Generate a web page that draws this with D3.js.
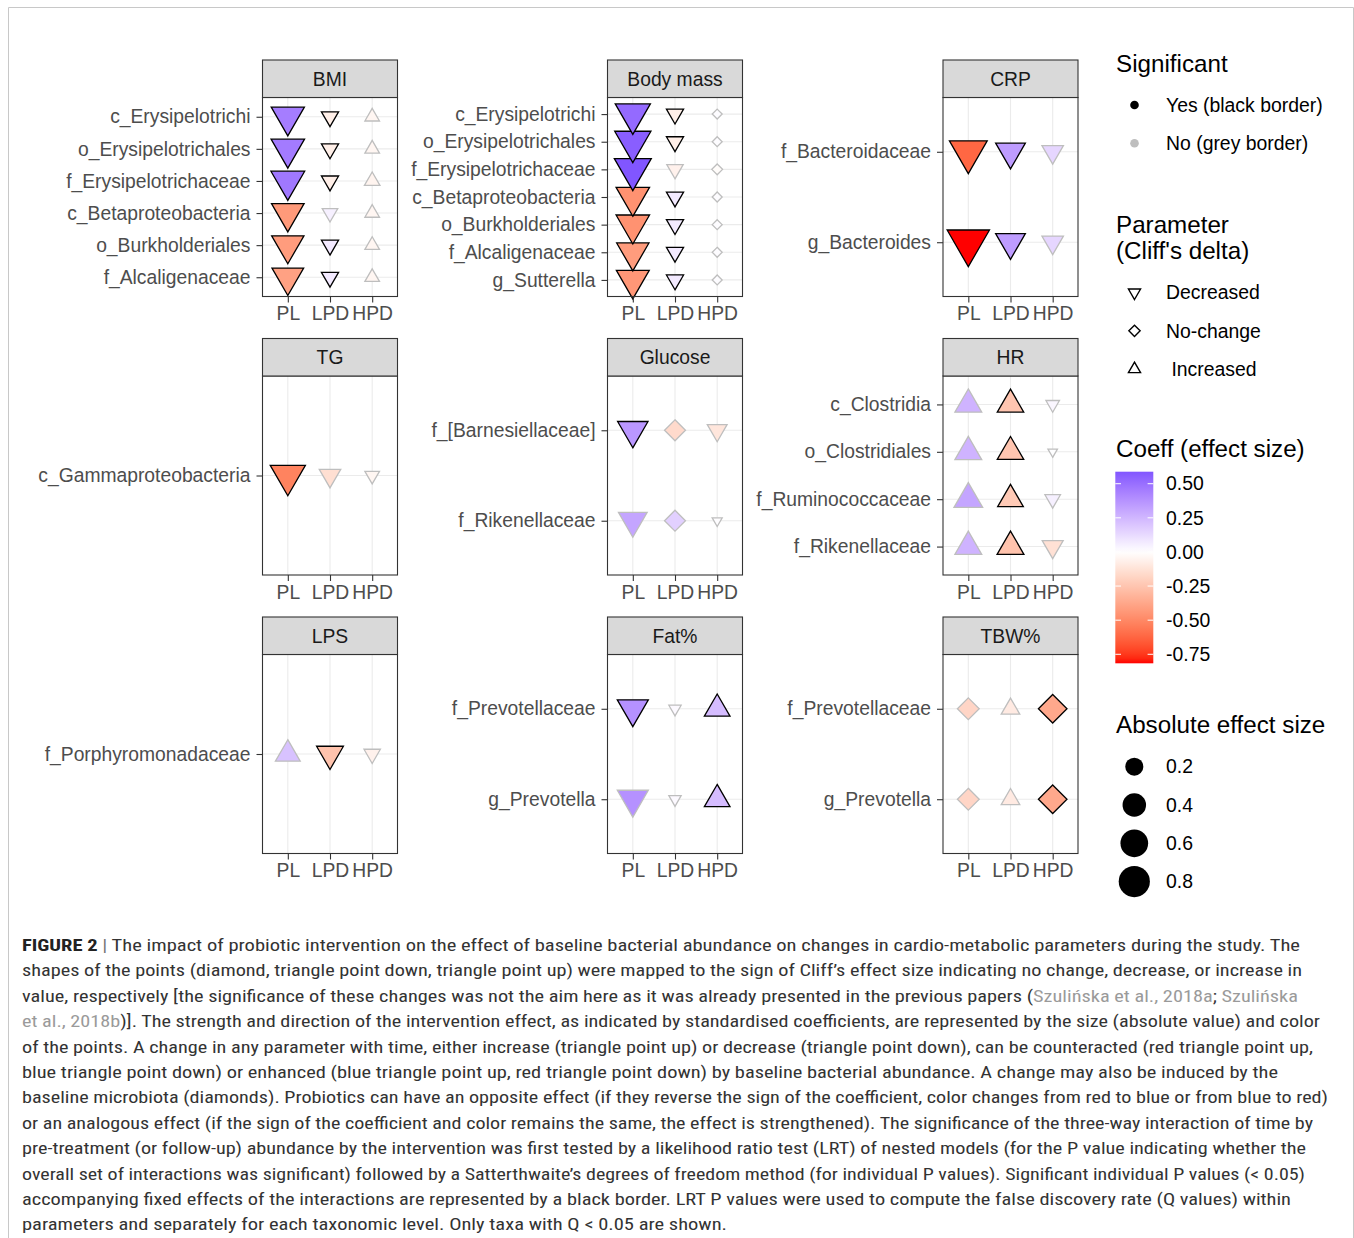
<!DOCTYPE html>
<html>
<head>
<meta charset="utf-8">
<script src="https://cdn.jsdelivr.net/npm/d3@7"></script>
<style>
  html, body { margin: 0; padding: 0; background: #fff; }
  svg { display: block; }
</style>
</head>
<body>
<svg id="fig" width="1354" height="1238"></svg>
<script>
// ---- data -----------------------------------------------------------------
// one facet per cardio-metabolic parameter
const parameters = ["BMI", "Body mass", "CRP", "TG", "Glucose", "HR", "LPS", "Fat%", "TBW%"];
const groups = ["PL", "LPD", "HPD"];
// sign of Cliff's delta per parameter and group: D = decreased, N = no-change, I = increased
const cliffDirection = [
  ["D", "D", "I"], // BMI
  ["D", "D", "N"], // Body mass
  ["D", "D", "D"], // CRP
  ["D", "D", "D"], // TG
  ["D", "N", "D"], // Glucose
  ["I", "I", "D"], // HR
  ["I", "D", "D"], // LPS
  ["D", "D", "I"], // Fat%
  ["N", "I", "N"]  // TBW%
];
// taxa, top to bottom inside each facet
const taxonParameter = [
  "BMI", "BMI", "BMI", "BMI", "BMI", "BMI",
  "Body mass", "Body mass", "Body mass", "Body mass", "Body mass", "Body mass", "Body mass",
  "CRP", "CRP",
  "TG",
  "Glucose", "Glucose",
  "HR", "HR", "HR", "HR",
  "LPS",
  "Fat%", "Fat%",
  "TBW%", "TBW%"
];
const taxonName = [
  "c_Erysipelotrichi", "o_Erysipelotrichales", "f_Erysipelotrichaceae", "c_Betaproteobacteria", "o_Burkholderiales", "f_Alcaligenaceae",
  "c_Erysipelotrichi", "o_Erysipelotrichales", "f_Erysipelotrichaceae", "c_Betaproteobacteria", "o_Burkholderiales", "f_Alcaligenaceae", "g_Sutterella",
  "f_Bacteroidaceae", "g_Bacteroides",
  "c_Gammaproteobacteria",
  "f_[Barnesiellaceae]", "f_Rikenellaceae",
  "c_Clostridia", "o_Clostridiales", "f_Ruminococcaceae", "f_Rikenellaceae",
  "f_Porphyromonadaceae",
  "f_Prevotellaceae", "g_Prevotella",
  "f_Prevotellaceae", "g_Prevotella"
];
// standardised interaction coefficients (effect size) per group
const coefPL = [
  0.45, 0.46, 0.47, -0.43, -0.42, -0.40,
  0.52, 0.56, 0.588, -0.46, -0.46, -0.42, -0.44,
  -0.62, -0.816,
  -0.52,
  0.36, 0.31,
  0.26, 0.26, 0.31, 0.26,
  0.21,
  0.38, 0.38,
  -0.18, -0.18
];
const coefLPD = [
  -0.07, -0.07, -0.07, 0.05, 0.07, 0.07,
  -0.07, -0.07, -0.06, 0.07, 0.07, 0.07, 0.07,
  0.34, 0.34,
  -0.14,
  -0.16, 0.16,
  -0.25, -0.25, -0.23, -0.26,
  -0.26,
  0.02, 0.02,
  -0.09, -0.09
];
const coefHPD = [
  -0.04, -0.04, -0.05, -0.04, -0.04, -0.04,
  0.01, 0.01, -0.015, 0.01, 0.01, 0.01, 0.01,
  0.14, 0.14,
  -0.04,
  -0.11, 0.007,
  0.03, 0.005, 0.05, -0.13,
  -0.06,
  0.23, 0.23,
  -0.37, -0.37
];
// significance of the individual fixed effect (1 = P < 0.05)
const sigPL = [1,1,1,1,1,1, 1,1,1,1,1,1,1, 1,1, 1, 1,0, 0,0,0,0, 0, 1,0, 0,0];
const sigLPD = [1,1,1,0,1,1, 1,1,0,1,1,1,1, 1,1, 0, 0,0, 1,1,1,1, 1, 0,0, 0,0];
const sigHPD = [0,0,0,0,0,0, 0,0,0,0,0,0,0, 0,0, 0, 0,0, 0,0,0,0, 0, 1,1, 1,1];

// legend content
const significanceLabels = ["Yes (black border)", "No (grey border)"];
const directionLabels = ["Decreased", "No-change", " Increased"];
const directionCodes = ["D", "N", "I"];
const coeffTicks = [0.5, 0.25, 0, -0.25, -0.5, -0.75];
const coeffLimits = [-0.816, 0.588];
const sizeBreaks = [0.2, 0.4, 0.6, 0.8];

// caption, one entry per printed line; segments are [text, style]
const captionLines = [
  [["FIGURE 2", "bold"], [" | ", "sep"], ["The impact of probiotic intervention on the effect of baseline bacterial abundance on changes in cardio-metabolic parameters during the study. The", "plain"]],
  [["shapes of the points (diamond, triangle point down, triangle point up) were mapped to the sign of Cliff\u2019s effect size indicating no change, decrease, or increase in", "plain"]],
  [["value, respectively [the significance of these changes was not the aim here as it was already presented in the previous papers (", "plain"], ["Szuli\u0144ska et al., 2018a", "cite"], ["; ", "plain"], ["Szuli\u0144ska", "cite"]],
  [["et al., 2018b", "cite"], [")]. The strength and direction of the intervention effect, as indicated by standardised coefficients, are represented by the size (absolute value) and color", "plain"]],
  [["of the points. A change in any parameter with time, either increase (triangle point up) or decrease (triangle point down), can be counteracted (red triangle point up,", "plain"]],
  [["blue triangle point down) or enhanced (blue triangle point up, red triangle point down) by baseline bacterial abundance. A change may also be induced by the", "plain"]],
  [["baseline microbiota (diamonds). Probiotics can have an opposite effect (if they reverse the sign of the coefficient, color changes from red to blue or from blue to red)", "plain"]],
  [["or an analogous effect (if the sign of the coefficient and color remains the same, the effect is strengthened). The significance of the three-way interaction of time by", "plain"]],
  [["pre-treatment (or follow-up) abundance by the intervention was first tested by a likelihood ratio test (LRT) of nested models (for the P value indicating whether the", "plain"]],
  [["overall set of interactions was significant) followed by a Satterthwaite\u2019s degrees of freedom method (for individual P values). Significant individual P values (< 0.05)", "plain"]],
  [["accompanying fixed effects of the interactions are represented by a black border. LRT P values were used to compute the false discovery rate (Q values) within", "plain"]],
  [["parameters and separately for each taxonomic level. Only taxa with Q < 0.05 are shown.", "plain"]]
];

// ---- layout ---------------------------------------------------------------
const FONT = "'Liberation Sans', Arial, Helvetica, sans-serif";
const CAPTION_FONT = "'Liberation Sans Narrow', 'Roboto Condensed', 'DejaVu Sans Condensed', 'Liberation Sans', Arial, sans-serif";
const AXIS_SIZE = 19.3, LEGEND_SIZE = 19.4, TITLE_SIZE = 24.2;
const colX = [262.5, 607.5, 943];
const rowY = [60, 338.5, 617];
const panelW = 135, stripH = 37.5, panelH = 199;
const captionX = 22, captionY0 = 951, captionStep = 25.4;
const captionRight = [1300, 1302, 1298, 1320, 1313, 1278, 1328, 1313, 1306, 1305, 1291, 727];

const svg = d3.select("#fig");
svg.append("rect").attr("width", 1354).attr("height", 1238).attr("fill", "#fff");
svg.append("path")
  .attr("d", "M8.5,1240V7.5H1353.5V1240")
  .attr("fill", "none").attr("stroke", "#c8c8c8").attr("stroke-width", 1);

// ---- scales ---------------------------------------------------------------
const colour = d3.scaleLinear()
  .domain([-0.816, 0, 0.816])
  .range(["#ff0000", "#ffffff", "#0000ff"])
  .interpolate(d3.interpolateLab)
  .clamp(true);
const sizeT = d3.scaleLinear().domain([0, 0.82]).range([0, 1]).clamp(true);
const diam = d3.scaleSqrt().domain([0, 1]).range([5, 31.5]);
const markDiameter = v => diam(sizeT(Math.abs(v)));

// R-style filled symbols: 25 (down), 23 (diamond), 24 (up), sized from the circle diameter
function shapePath(kind, cx, cy, d) {
  const R = d / 2;
  if (kind === "N") {
    const h = 1.2533 * R;
    return `M${cx},${cy - h}L${cx + h},${cy}L${cx},${cy + h}L${cx - h},${cy}Z`;
  }
  const xc = 1.3468 * R, r = 1.5551 * R, yc = 0.7776 * R;
  if (kind === "I") return `M${cx},${cy - r}L${cx + xc},${cy + yc}L${cx - xc},${cy + yc}Z`;
  return `M${cx},${cy + r}L${cx + xc},${cy - yc}L${cx - xc},${cy - yc}Z`;
}

const rows = taxonName.map((name, i) => ({
  param: taxonParameter[i],
  name,
  coef: [coefPL[i], coefLPD[i], coefHPD[i]],
  sig: [sigPL[i], sigLPD[i], sigHPD[i]]
}));

// ---- facets ---------------------------------------------------------------
parameters.forEach((p, k) => {
  const col = k % 3, row = Math.floor(k / 3);
  const x0 = colX[col], top = rowY[row], y0 = top + stripH;
  const sub = rows.filter(r => r.param === p);
  const dirs = cliffDirection[k];

  const x = d3.scalePoint().domain(groups).range([x0, x0 + panelW]).padding(0.6);
  const y = d3.scalePoint().domain(sub.map(r => r.name)).range([y0, y0 + panelH]).padding(0.6);

  const g = svg.append("g");
  g.append("rect").attr("x", x0).attr("y", y0).attr("width", panelW).attr("height", panelH).attr("fill", "#fff");

  // grid
  g.selectAll(".vg").data(groups).join("line")
    .attr("x1", d => x(d)).attr("x2", d => x(d))
    .attr("y1", y0).attr("y2", y0 + panelH)
    .attr("stroke", "#ebebeb").attr("stroke-width", 1.1);
  g.selectAll(".hg").data(sub).join("line")
    .attr("x1", x0).attr("x2", x0 + panelW)
    .attr("y1", d => y(d.name)).attr("y2", d => y(d.name))
    .attr("stroke", "#ebebeb").attr("stroke-width", 1.1);

  // points, bottom row first so upper rows stay on top
  const pts = [];
  sub.slice().reverse().forEach(r => {
    groups.forEach((gr, j) => pts.push({ r, gr, j }));
  });
  g.selectAll(".pt").data(pts).join("path")
    .attr("d", d => shapePath(dirs[d.j], x(d.gr), y(d.r.name), markDiameter(d.r.coef[d.j])))
    .attr("fill", d => colour(d.r.coef[d.j]))
    .attr("stroke", d => d.r.sig[d.j] ? "#000" : "#bebebe")
    .attr("stroke-width", 1.3)
    .attr("stroke-linejoin", "miter");

  // border and strip
  g.append("rect").attr("x", x0).attr("y", y0).attr("width", panelW).attr("height", panelH)
    .attr("fill", "none").attr("stroke", "#333").attr("stroke-width", 1.1);
  g.append("rect").attr("x", x0).attr("y", top).attr("width", panelW).attr("height", stripH)
    .attr("fill", "#d9d9d9").attr("stroke", "#333").attr("stroke-width", 1.1);
  g.append("text").attr("x", x0 + panelW / 2).attr("y", top + stripH / 2).attr("dy", "0.35em")
    .attr("text-anchor", "middle").attr("font-family", FONT).attr("font-size", AXIS_SIZE)
    .attr("fill", "#1a1a1a").text(p);

  // axes
  const gx = g.append("g").attr("transform", `translate(0,${y0 + panelH})`)
    .call(d3.axisBottom(x).tickSize(6).tickPadding(4));
  const gy = g.append("g").attr("transform", `translate(${x0},0)`)
    .call(d3.axisLeft(y).tickSize(6).tickPadding(6));
  [gx, gy].forEach(a => {
    a.attr("font-family", FONT).attr("font-size", AXIS_SIZE);
    a.select(".domain").remove();
    a.selectAll("line").attr("stroke", "#333").attr("stroke-width", 1.1);
    a.selectAll("text").attr("fill", "#4d4d4d");
  });
});

// ---- legends --------------------------------------------------------------
const L = svg.append("g").attr("font-family", FONT).attr("fill", "#000");
const legTitle = (yb, txt) => L.append("text").attr("x", 1116).attr("y", yb).attr("font-size", TITLE_SIZE).text(txt);
const legText = (x, yc, txt) => L.append("text").attr("x", x).attr("y", yc).attr("dy", "0.35em")
  .attr("font-size", LEGEND_SIZE).attr("xml:space", "preserve").style("white-space", "pre").text(txt);

// significance
legTitle(71.5, "Significant");
significanceLabels.forEach((t, i) => {
  const yc = 105 + i * 38.3;
  L.append("circle").attr("cx", 1134.5).attr("cy", yc).attr("r", 4.3)
    .attr("fill", i === 0 ? "#000" : "#bebebe");
  legText(1166, yc, t);
});

// direction of the parameter
legTitle(233, "Parameter");
legTitle(258.5, "(Cliff's delta)");
directionCodes.forEach((c, i) => {
  const yc = 292.5 + i * 38.3;
  L.append("path").attr("d", shapePath(c, 1134.5, yc, 9))
    .attr("fill", "#fff").attr("stroke", "#000").attr("stroke-width", 1.4);
  legText(1166, yc, directionLabels[i]);
});

// colour bar
legTitle(457, "Coeff (effect size)");
const cbY = d3.scaleLinear().domain(coeffLimits).range([663.3, 471.7]);
const grad = svg.append("defs").append("linearGradient").attr("id", "coeffGrad")
  .attr("x1", 0).attr("y1", 0).attr("x2", 0).attr("y2", 1);
d3.range(0, 1.0001, 0.025).forEach(o => {
  const v = coeffLimits[1] + (coeffLimits[0] - coeffLimits[1]) * o;
  grad.append("stop").attr("offset", o).attr("stop-color", colour(v));
});
L.append("rect").attr("x", 1115.3).attr("y", cbY(coeffLimits[1])).attr("width", 38)
  .attr("height", cbY(coeffLimits[0]) - cbY(coeffLimits[1])).attr("fill", "url(#coeffGrad)");
coeffTicks.forEach(v => {
  const yy = cbY(v);
  L.append("line").attr("x1", 1115.3).attr("x2", 1121).attr("y1", yy).attr("y2", yy)
    .attr("stroke", "#fff").attr("stroke-width", 1);
  L.append("line").attr("x1", 1147.6).attr("x2", 1153.3).attr("y1", yy).attr("y2", yy)
    .attr("stroke", "#fff").attr("stroke-width", 1);
  legText(1166, yy, v.toFixed(2));
});

// size
legTitle(732.5, "Absolute effect size");
sizeBreaks.forEach((v, i) => {
  const yc = 766.7 + i * 38.3;
  L.append("circle").attr("cx", 1134.3).attr("cy", yc).attr("r", markDiameter(v) / 2).attr("fill", "#000");
  legText(1166, yc, String(v));
});

// ---- caption --------------------------------------------------------------
const cap = svg.append("g").attr("font-family", CAPTION_FONT).attr("font-size", 17.3).attr("fill", "#333");
captionLines.forEach((segs, i) => {
  const t = cap.append("text").attr("x", captionX).attr("y", captionY0 + i * captionStep)
    .attr("textLength", captionRight[i] - captionX).attr("lengthAdjust", "spacingAndGlyphs")
    .attr("xml:space", "preserve").style("white-space", "pre");
  segs.forEach(([txt, style]) => {
    const s = t.append("tspan").text(txt);
    if (style === "bold") s.attr("font-weight", "bold").attr("fill", "#222");
    if (style === "sep") s.attr("fill", "#777");
    if (style === "cite") s.attr("fill", "#9a9a9a");
  });
});
</script>
</body>
</html>
